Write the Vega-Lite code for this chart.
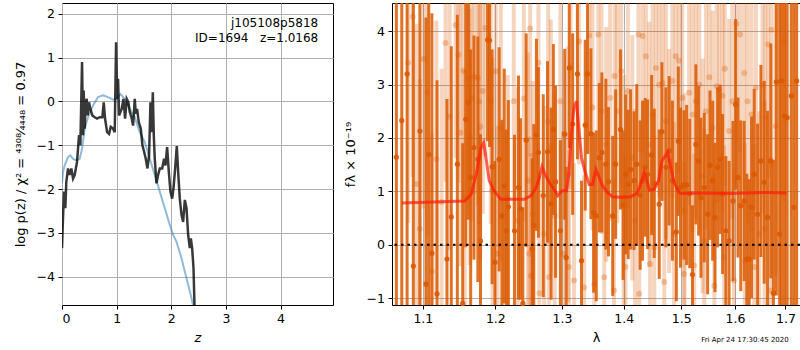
{
 "$schema": "https://vega.github.io/schema/vega-lite/v6.json",
 "background": "white",
 "padding": {"left": 13, "top": 2, "right": 0, "bottom": 0},
 "spacing": 9,
 "config": {
  "view": {"stroke": "black", "strokeWidth": 1},
  "font": "DejaVu Sans",
  "axis": {"grid": true, "gridColor": "#b0b0b0", "gridWidth": 1, "domain": false, "tickColor": "black", "tickSize": 4, "tickWidth": 1, "labelFontSize": 12.5, "labelColor": "black", "labelPadding": 3.5, "titleFontSize": 13, "titleFontWeight": "normal", "titleColor": "black", "titlePadding": 9}
 },
 "datasets": {
  "pz": [{"z":0,"p":-3.35},{"z":0.018,"p":-2.67},{"z":0.037,"p":-2.06},{"z":0.061,"p":-2.44},{"z":0.079,"p":-1.84},{"z":0.11,"p":-1.53},{"z":0.14,"p":-1.68},{"z":0.171,"p":-1.53},{"z":0.202,"p":-1.76},{"z":0.232,"p":-1.68},{"z":0.275,"p":-1.38},{"z":0.312,"p":-0.77},{"z":0.336,"p":-1.0},{"z":0.367,"p":0.9},{"z":0.385,"p":-0.77},{"z":0.397,"p":0.25},{"z":0.415,"p":-0.62},{"z":0.434,"p":-0.02},{"z":0.452,"p":0.06},{"z":0.47,"p":-0.32},{"z":0.495,"p":-0.02},{"z":0.519,"p":-0.17},{"z":0.556,"p":-0.32},{"z":0.599,"p":-0.36},{"z":0.641,"p":-0.39},{"z":0.69,"p":-0.36},{"z":0.739,"p":-0.36},{"z":0.764,"p":-0.02},{"z":0.788,"p":-0.39},{"z":0.825,"p":-0.7},{"z":0.861,"p":-0.74},{"z":0.892,"p":-0.58},{"z":0.935,"p":-0.62},{"z":0.965,"p":-0.7},{"z":0.99,"p":1.35},{"z":1.008,"p":0.06},{"z":1.026,"p":0.52},{"z":1.045,"p":-0.32},{"z":1.069,"p":-0.24},{"z":1.093,"p":-0.17},{"z":1.124,"p":0.06},{"z":1.155,"p":-0.39},{"z":1.185,"p":0.06},{"z":1.216,"p":-0.02},{"z":1.24,"p":-0.24},{"z":1.271,"p":-0.36},{"z":1.301,"p":-0.55},{"z":1.332,"p":0.06},{"z":1.35,"p":-0.28},{"z":1.374,"p":-0.17},{"z":1.405,"p":-0.47},{"z":1.442,"p":-0.62},{"z":1.472,"p":-1.0},{"z":1.503,"p":-1.15},{"z":1.533,"p":-1.31},{"z":1.564,"p":-1.53},{"z":1.594,"p":-1.23},{"z":1.619,"p":-0.02},{"z":1.643,"p":-0.7},{"z":1.662,"p":0.21},{"z":1.68,"p":-0.77},{"z":1.698,"p":-1.31},{"z":1.729,"p":-1.87},{"z":1.759,"p":-1.68},{"z":1.79,"p":-1.53},{"z":1.833,"p":-1.53},{"z":1.869,"p":-1.31},{"z":1.894,"p":-1.46},{"z":1.924,"p":-1.04},{"z":1.955,"p":-1.61},{"z":1.985,"p":-2.06},{"z":2.016,"p":-2.22},{"z":2.04,"p":-1.99},{"z":2.071,"p":-1.53},{"z":2.101,"p":-1.02},{"z":2.126,"p":-1.61},{"z":2.156,"p":-2.22},{"z":2.187,"p":-2.59},{"z":2.217,"p":-2.75},{"z":2.248,"p":-2.25},{"z":2.279,"p":-2.44},{"z":2.309,"p":-3.05},{"z":2.34,"p":-3.35},{"z":2.358,"p":-3.13},{"z":2.382,"p":-3.35},{"z":2.407,"p":-3.81},{"z":2.425,"p":-4.66},{"z":2.443,"p":-5.33}],
  "pzfit": [{"z":0,"p":-1.87},{"z":0.018,"p":-1.61},{"z":0.049,"p":-1.46},{"z":0.11,"p":-1.27},{"z":0.153,"p":-1.23},{"z":0.202,"p":-1.31},{"z":0.263,"p":-1.34},{"z":0.324,"p":-1.31},{"z":0.367,"p":-1.08},{"z":0.415,"p":-0.62},{"z":0.476,"p":-0.36},{"z":0.568,"p":-0.09},{"z":0.66,"p":0.1},{"z":0.751,"p":0.14},{"z":0.843,"p":0.1},{"z":0.935,"p":0.04},{"z":0.996,"p":0.06},{"z":1.069,"p":0.17},{"z":1.148,"p":0.06},{"z":1.24,"p":-0.17},{"z":1.332,"p":-0.36},{"z":1.423,"p":-0.7},{"z":1.515,"p":-0.93},{"z":1.607,"p":-1.31},{"z":1.698,"p":-1.68},{"z":1.79,"p":-2.06},{"z":1.882,"p":-2.44},{"z":1.973,"p":-2.82},{"z":2.034,"p":-3.05},{"z":2.095,"p":-3.2},{"z":2.187,"p":-3.58},{"z":2.279,"p":-4.04},{"z":2.37,"p":-4.49},{"z":2.431,"p":-4.87}],
  "label": [{"t":"j105108p5818","z":4.69,"p":1.8},{"t":"ID=1694\u00a0\u00a0\u00a0z=1.0168","z":4.69,"p":1.46}],
  "dark": [{"l":1.0656,"f":1.64,"e":6},{"l":1.0725,"f":2.33,"e":6},{"l":1.0794,"f":3.2,"e":6},{"l":1.0875,"f":-0.4,"e":6},{"l":1.0961,"f":2.13,"e":6},{"l":1.1041,"f":-0.74,"e":5},{"l":1.1078,"f":1.69,"e":4},{"l":1.112,"f":-0.16,"e":4.5},{"l":1.1189,"f":-0.92,"e":4},{"l":1.1323,"f":-0.27,"e":3},{"l":1.1382,"f":0.52,"e":3.2},{"l":1.1465,"f":1.51,"e":2.8},{"l":1.1539,"f":-1.1,"e":3},{"l":1.1581,"f":2.35,"e":2.4},{"l":1.1618,"f":2.67,"e":2.2},{"l":1.165,"f":1.26,"e":2.4},{"l":1.1696,"f":1.82,"e":2.1},{"l":1.1751,"f":1.6,"e":2.3},{"l":1.1788,"f":0.07,"e":2.0},{"l":1.1889,"f":3.84,"e":1.9},{"l":1.1917,"f":3.83,"e":2.0},{"l":1.1954,"f":1.46,"e":2.2},{"l":1.1995,"f":-0.33,"e":1.9},{"l":1.2055,"f":1.6,"e":2.1},{"l":1.2095,"f":0.54,"e":1.8},{"l":1.2129,"f":1.1,"e":2.2},{"l":1.2159,"f":0.26,"e":1.9},{"l":1.2189,"f":0.71,"e":2.0},{"l":1.2279,"f":0.26,"e":1.8},{"l":1.2338,"f":1.07,"e":2.1},{"l":1.2368,"f":0.67,"e":1.7},{"l":1.2403,"f":-1.1,"e":1.8},{"l":1.2453,"f":1.96,"e":2.0},{"l":1.2542,"f":-0.08,"e":1.7},{"l":1.2567,"f":0.36,"e":1.9},{"l":1.2607,"f":2.06,"e":1.8},{"l":1.2637,"f":1.73,"e":1.6},{"l":1.2711,"f":0.92,"e":1.9},{"l":1.2776,"f":1.74,"e":1.7},{"l":1.2831,"f":0.77,"e":1.8},{"l":1.2866,"f":2.16,"e":1.6},{"l":1.29,"f":1.18,"e":1.8},{"l":1.2975,"f":0.26,"e":1.7},{"l":1.3043,"f":2.07,"e":1.6},{"l":1.3065,"f":-0.24,"e":1.7},{"l":1.3114,"f":3.31,"e":1.5},{"l":1.3168,"f":2.26,"e":1.7},{"l":1.3243,"f":3.2,"e":1.6},{"l":1.3308,"f":-0.3,"e":1.5},{"l":1.3368,"f":2.24,"e":1.6},{"l":1.3405,"f":3.2,"e":1.5},{"l":1.3459,"f":2.08,"e":1.6},{"l":1.3503,"f":0.6,"e":1.5},{"l":1.3546,"f":0.54,"e":1.6},{"l":1.3595,"f":1.63,"e":1.4},{"l":1.3638,"f":1.73,"e":1.5},{"l":1.3703,"f":1.51,"e":1.6},{"l":1.3746,"f":1.18,"e":1.4},{"l":1.3816,"f":0.54,"e":1.5},{"l":1.3865,"f":1.51,"e":1.4},{"l":1.3946,"f":2.16,"e":1.5},{"l":1.3989,"f":0.74,"e":1.4},{"l":1.4035,"f":1.32,"e":1.5},{"l":1.4076,"f":1.13,"e":1.4},{"l":1.4116,"f":1.41,"e":1.5},{"l":1.4174,"f":1.2,"e":1.3},{"l":1.4221,"f":1.51,"e":1.5},{"l":1.4279,"f":0.93,"e":1.4},{"l":1.432,"f":1.2,"e":1.5},{"l":1.4366,"f":1.45,"e":1.3},{"l":1.4407,"f":1.32,"e":1.4},{"l":1.4477,"f":1.68,"e":1.5},{"l":1.4523,"f":1.15,"e":1.4},{"l":1.461,"f":0.76,"e":1.4},{"l":1.4657,"f":2.12,"e":1.3},{"l":1.4727,"f":1.45,"e":1.5},{"l":1.4785,"f":1.76,"e":1.4},{"l":1.4843,"f":1.2,"e":1.5},{"l":1.4913,"f":0.24,"e":1.3},{"l":1.4948,"f":1.94,"e":1.4},{"l":1.4988,"f":1.07,"e":1.5},{"l":1.505,"f":1.12,"e":1.4},{"l":1.5099,"f":1.12,"e":1.5},{"l":1.5155,"f":0.96,"e":1.4},{"l":1.5205,"f":-0.56,"e":1.3},{"l":1.5267,"f":1.88,"e":1.5},{"l":1.5317,"f":1.57,"e":1.4},{"l":1.536,"f":0.88,"e":1.5},{"l":1.5422,"f":1.07,"e":1.4},{"l":1.5484,"f":0.57,"e":1.5},{"l":1.5528,"f":1.49,"e":1.4},{"l":1.5578,"f":1.2,"e":1.5},{"l":1.5621,"f":0.51,"e":1.4},{"l":1.5671,"f":1.45,"e":1.5},{"l":1.572,"f":1.6,"e":1.4},{"l":1.5764,"f":0.95,"e":1.5},{"l":1.5826,"f":0.26,"e":1.4},{"l":1.5888,"f":0.07,"e":1.5},{"l":1.5963,"f":0.82,"e":1.5},{"l":1.6013,"f":2.63,"e":1.6},{"l":1.6059,"f":1.26,"e":1.5},{"l":1.6112,"f":0.73,"e":1.6},{"l":1.6178,"f":0.82,"e":1.5},{"l":1.623,"f":-0.27,"e":1.6},{"l":1.6276,"f":-0.27,"e":1.5},{"l":1.6322,"f":0.7,"e":1.7},{"l":1.6375,"f":1.32,"e":1.6},{"l":1.6441,"f":0.57,"e":1.7},{"l":1.6507,"f":1.57,"e":1.8},{"l":1.6572,"f":1.17,"e":1.9},{"l":1.6638,"f":0.51,"e":2.0},{"l":1.6704,"f":1.57,"e":2.2},{"l":1.6757,"f":-0.91,"e":2.5},{"l":1.6816,"f":3.05,"e":4},{"l":1.6882,"f":0.2,"e":5},{"l":1.6921,"f":3.07,"e":6},{"l":1.698,"f":2.41,"e":6},{"l":1.7035,"f":2.38,"e":6},{"l":1.7119,"f":2.79,"e":6},{"l":1.7175,"f":0.7,"e":6},{"l":1.7231,"f":3.07,"e":6}],
  "light": [{"l":1.0807,"f":3.41,"e":3.0},{"l":1.0867,"f":4.27,"e":3.0},{"l":1.0915,"f":1.14,"e":3.0},{"l":1.096,"f":0.3,"e":2.8},{"l":1.1011,"f":3.48,"e":2.8},{"l":1.106,"f":2.85,"e":2.7},{"l":1.112,"f":-0.5,"e":2.6},{"l":1.118,"f":1.6,"e":2.6},{"l":1.125,"f":0.8,"e":2.5},{"l":1.1304,"f":3.78,"e":2.6},{"l":1.136,"f":2.4,"e":2.5},{"l":1.1442,"f":4.12,"e":2.5},{"l":1.148,"f":3.56,"e":2.4},{"l":1.1508,"f":2.1,"e":2.5},{"l":1.1548,"f":3.26,"e":2.4},{"l":1.1567,"f":0.88,"e":2.4},{"l":1.1618,"f":3.13,"e":2.3},{"l":1.1636,"f":2.02,"e":2.4},{"l":1.1664,"f":2.75,"e":2.3},{"l":1.1702,"f":3.15,"e":2.2},{"l":1.1751,"f":3.13,"e":2.4},{"l":1.177,"f":2.68,"e":2.3},{"l":1.1785,"f":2.21,"e":2.5},{"l":1.182,"f":2.88,"e":2.3},{"l":1.1858,"f":4.06,"e":2.4},{"l":1.1935,"f":2.69,"e":2.3},{"l":1.1959,"f":1.01,"e":2.5},{"l":1.2005,"f":3.25,"e":2.3},{"l":1.203,"f":-0.17,"e":2.4},{"l":1.208,"f":2.19,"e":2.5},{"l":1.2179,"f":0.88,"e":2.3},{"l":1.2269,"f":2.69,"e":2.4},{"l":1.2328,"f":0.45,"e":2.5},{"l":1.2418,"f":2.74,"e":2.3},{"l":1.2478,"f":1.2,"e":2.4},{"l":1.25,"f":-0.17,"e":2.2},{"l":1.2512,"f":4.05,"e":2.4},{"l":1.2527,"f":-0.58,"e":2.3},{"l":1.2552,"f":0.57,"e":2.5},{"l":1.2637,"f":3.41,"e":2.3},{"l":1.2652,"f":-0.91,"e":2.2},{"l":1.2726,"f":0.2,"e":2.4},{"l":1.2786,"f":2.31,"e":2.3},{"l":1.2801,"f":-0.61,"e":2.2},{"l":1.2826,"f":1.82,"e":2.4},{"l":1.2886,"f":0.54,"e":2.3},{"l":1.2975,"f":2.69,"e":2.2},{"l":1.3016,"f":-0.17,"e":2.3},{"l":1.3092,"f":1.32,"e":2.4},{"l":1.311,"f":-0.42,"e":2.2},{"l":1.3135,"f":3.35,"e":2.3},{"l":1.3189,"f":-0.67,"e":2.2},{"l":1.327,"f":3.81,"e":2.3},{"l":1.3351,"f":-0.8,"e":2.1},{"l":1.3432,"f":3.92,"e":2.2},{"l":1.3486,"f":2.57,"e":2.3},{"l":1.3514,"f":-0.74,"e":2.1},{"l":1.3578,"f":3.94,"e":2.2},{"l":1.3632,"f":2.5,"e":2.3},{"l":1.3676,"f":-0.61,"e":2.1},{"l":1.3708,"f":1.88,"e":2.2},{"l":1.3773,"f":2.75,"e":2.3},{"l":1.3838,"f":-0.86,"e":2.1},{"l":1.3849,"f":3.16,"e":2.2},{"l":1.3892,"f":2.5,"e":2.1},{"l":1.3957,"f":3.25,"e":2.2},{"l":1.4,"f":0.88,"e":2.3},{"l":1.403,"f":-0.42,"e":2.1},{"l":1.407,"f":2.88,"e":2.2},{"l":1.4145,"f":1.63,"e":2.3},{"l":1.4192,"f":0.45,"e":2.1},{"l":1.425,"f":3.94,"e":2.2},{"l":1.4262,"f":-0.92,"e":2.1},{"l":1.432,"f":3.91,"e":2.2},{"l":1.4378,"f":3.53,"e":2.1},{"l":1.4436,"f":1.88,"e":2.3},{"l":1.445,"f":-0.36,"e":2.1},{"l":1.4494,"f":2.44,"e":2.2},{"l":1.4523,"f":-0.05,"e":2.1},{"l":1.4552,"f":3.31,"e":2.2},{"l":1.461,"f":3.0,"e":2.1},{"l":1.4669,"f":3.03,"e":2.2},{"l":1.4698,"f":-0.7,"e":2.1},{"l":1.4727,"f":2.32,"e":2.2},{"l":1.4785,"f":1.57,"e":2.1},{"l":1.4843,"f":3.07,"e":2.2},{"l":1.4872,"f":0.2,"e":2.1},{"l":1.4901,"f":3.53,"e":2.2},{"l":1.4959,"f":3.45,"e":2.1},{"l":1.5019,"f":2.75,"e":2.2},{"l":1.505,"f":-0.55,"e":2.1},{"l":1.5062,"f":0.64,"e":2.2},{"l":1.5143,"f":2.85,"e":2.1},{"l":1.5205,"f":2.44,"e":2.2},{"l":1.5236,"f":-0.39,"e":2.1},{"l":1.5267,"f":2.69,"e":2.2},{"l":1.5329,"f":3.0,"e":2.1},{"l":1.5391,"f":1.29,"e":2.2},{"l":1.5422,"f":0.07,"e":2.1},{"l":1.5453,"f":2.5,"e":2.2},{"l":1.5516,"f":3.14,"e":2.1},{"l":1.5578,"f":2.19,"e":2.2},{"l":1.5609,"f":-0.77,"e":2.1},{"l":1.5652,"f":2.97,"e":2.2},{"l":1.5702,"f":2.91,"e":2.1},{"l":1.5764,"f":2.79,"e":2.2},{"l":1.5795,"f":-0.24,"e":2.1},{"l":1.5807,"f":3.3,"e":2.2},{"l":1.5888,"f":2.13,"e":2.1},{"l":1.595,"f":2.69,"e":2.2},{"l":1.5981,"f":-0.67,"e":2.1},{"l":1.6026,"f":4.14,"e":2.2},{"l":1.6099,"f":3.94,"e":2.2},{"l":1.6178,"f":3.22,"e":2.2},{"l":1.619,"f":-0.3,"e":2.2},{"l":1.6243,"f":2.69,"e":2.3},{"l":1.6322,"f":2.44,"e":2.2},{"l":1.6375,"f":-0.42,"e":2.3},{"l":1.6408,"f":2.94,"e":2.3},{"l":1.6474,"f":0.2,"e":2.3},{"l":1.6539,"f":3.0,"e":2.4},{"l":1.658,"f":0.3,"e":2.4},{"l":1.6592,"f":2.38,"e":2.4},{"l":1.6651,"f":3.75,"e":2.5},{"l":1.6704,"f":-0.86,"e":2.5},{"l":1.6717,"f":4.03,"e":2.6},{"l":1.6803,"f":2.22,"e":2.8},{"l":1.6967,"f":3.81,"e":3.0}],
  "model": [{"l":1.0725,"f":0.78},{"l":1.1567,"f":0.82},{"l":1.1659,"f":0.95},{"l":1.1728,"f":1.32},{"l":1.1797,"f":1.82},{"l":1.1834,"f":1.91},{"l":1.1866,"f":1.63},{"l":1.1912,"f":1.2},{"l":1.1982,"f":1.01},{"l":1.208,"f":0.85},{"l":1.2179,"f":0.85},{"l":1.2328,"f":0.85},{"l":1.2428,"f":0.85},{"l":1.2527,"f":0.92},{"l":1.2602,"f":1.07},{"l":1.2652,"f":1.26},{"l":1.2692,"f":1.46},{"l":1.2736,"f":1.32},{"l":1.2801,"f":1.17},{"l":1.2876,"f":1.04},{"l":1.2935,"f":0.92},{"l":1.3,"f":1.01},{"l":1.307,"f":1.01},{"l":1.3108,"f":1.32},{"l":1.3146,"f":2.07},{"l":1.3189,"f":2.57},{"l":1.3227,"f":2.69},{"l":1.3259,"f":2.26},{"l":1.3308,"f":1.63},{"l":1.3362,"f":1.38},{"l":1.3432,"f":1.13},{"l":1.3486,"f":1.13},{"l":1.3541,"f":1.41},{"l":1.3595,"f":1.26},{"l":1.3649,"f":1.1},{"l":1.373,"f":0.98},{"l":1.3811,"f":0.9},{"l":1.3946,"f":0.89},{"l":1.4116,"f":0.9},{"l":1.4221,"f":0.96},{"l":1.4279,"f":1.1},{"l":1.4349,"f":1.35},{"l":1.4395,"f":1.2},{"l":1.4442,"f":1.02},{"l":1.4523,"f":1.04},{"l":1.4599,"f":1.2},{"l":1.4657,"f":1.57},{"l":1.4756,"f":1.73},{"l":1.4814,"f":1.45},{"l":1.4872,"f":1.17},{"l":1.4959,"f":0.98},{"l":1.5,"f":0.96},{"l":1.5298,"f":0.97},{"l":1.5919,"f":0.96},{"l":1.6572,"f":0.98},{"l":1.7021,"f":0.97}],
  "one": [{}]
 },
 "hconcat": [
  {
   "width": 271,
   "height": 302,
   "encoding": {
    "x": {"type": "quantitative", "scale": {"domain": [0, 4.96], "nice": false, "zero": false}, "axis": {"values": [0,1,2,3,4], "title": "z", "titleFontStyle": "italic", "titlePadding": 6}},
    "y": {"type": "quantitative", "scale": {"domain": [-4.65, 2.25], "nice": false, "zero": false}, "axis": {"values": [-4,-3,-2,-1,0,1,2], "title": "log p(z) / χ² = ⁴³⁰⁸⁄₄₄₄₈ = 0.97"}}
   },
   "layer": [
    {"data": {"name": "pzfit"}, "mark": {"type": "line", "color": "#1f77b4", "opacity": 0.5, "strokeWidth": 2, "clip": true}, "encoding": {"x": {"field": "z", "type": "quantitative"}, "y": {"field": "p", "type": "quantitative"}}},
    {"data": {"name": "pz"}, "mark": {"type": "line", "color": "black", "opacity": 0.78, "strokeWidth": 2.5, "clip": true}, "encoding": {"x": {"field": "z", "type": "quantitative"}, "y": {"field": "p", "type": "quantitative"}}},
    {"data": {"name": "label"}, "mark": {"type": "text", "align": "right", "baseline": "middle", "fontSize": 12, "color": "black"}, "encoding": {"x": {"field": "z", "type": "quantitative"}, "y": {"field": "p", "type": "quantitative"}, "text": {"field": "t"}}}
   ]
  },
  {
   "width": 408,
   "height": 302,
   "encoding": {
    "x": {"type": "quantitative", "scale": {"type": "log", "domain": [1.06, 1.73], "nice": false}, "axis": {"values": [1.1,1.2,1.3,1.4,1.5,1.6,1.7], "format": ".1f", "title": "λ", "titlePadding": 6}},
    "y": {"type": "quantitative", "scale": {"domain": [-1.13, 4.53], "nice": false, "zero": false}, "axis": {"values": [-1,0,1,2,3,4], "title": "fλ × 10⁻¹⁹"}}
   },
   "layer": [
    {"data": {"name": "light"}, "mark": {"type": "errorbar", "color": "#db5900", "opacity": 0.25, "clip": true, "rule": {"strokeWidth": 4}}, "encoding": {"x": {"field": "l", "type": "quantitative"}, "y": {"field": "f", "type": "quantitative"}, "yError": {"field": "e"}}},
    {"data": {"name": "light"}, "mark": {"type": "circle", "color": "#db5900", "opacity": 0.3, "size": 36}, "encoding": {"x": {"field": "l", "type": "quantitative"}, "y": {"field": "f", "type": "quantitative"}}},
    {"data": {"name": "dark"}, "mark": {"type": "errorbar", "color": "#db5900", "opacity": 0.85, "clip": true, "rule": {"strokeWidth": 3}}, "encoding": {"x": {"field": "l", "type": "quantitative"}, "y": {"field": "f", "type": "quantitative"}, "yError": {"field": "e"}}},
    {"data": {"name": "dark"}, "mark": {"type": "circle", "color": "#db5900", "opacity": 0.9, "size": 28}, "encoding": {"x": {"field": "l", "type": "quantitative"}, "y": {"field": "f", "type": "quantitative"}}},
    {"data": {"name": "model"}, "mark": {"type": "line", "color": "#ff1a0a", "opacity": 0.7, "strokeWidth": 3}, "encoding": {"x": {"field": "l", "type": "quantitative"}, "y": {"field": "f", "type": "quantitative"}}},
    {"data": {"name": "one"}, "mark": {"type": "rule", "color": "black", "strokeWidth": 2, "strokeDash": [2.5, 4]}, "encoding": {"y": {"datum": 0, "type": "quantitative"}}},
    {"data": {"name": "one"}, "mark": {"type": "text", "align": "right", "baseline": "middle", "fontSize": 7, "color": "black"}, "encoding": {"x": {"datum": 1.7067, "type": "quantitative"}, "y": {"datum": -1.78, "type": "quantitative"}, "text": {"value": "Fri Apr 24 17:30:45 2020"}}}
   ]
  }
 ]
}
